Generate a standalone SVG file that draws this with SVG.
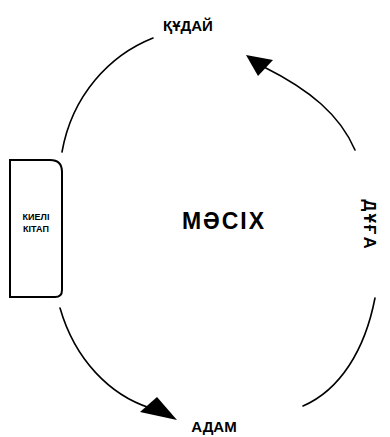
<svg xmlns="http://www.w3.org/2000/svg" width="390" height="437" viewBox="0 0 390 437">
<style>
.t{font-family:"Liberation Sans","DejaVu Sans",sans-serif;font-weight:bold;fill:#000}
.c{fill:none;stroke:#000;stroke-width:1.6;stroke-linecap:round}
.h{fill:#000;stroke:none}
</style>
<rect width="390" height="437" fill="#fff"/>
<g id="connectors">
<path class="c" d="M153,38 C110,55 72,95 62,152"/>
<path class="c" d="M264,67 C310,90 340,115 355,150"/>
<polygon class="h" points="246,55 273,60 258,76"/>
<path class="c" d="M375,298 C365,350 340,390 303,406"/>
<path class="c" d="M60,308 C75,360 110,395 150,408"/>
<polygon class="h" points="177,420 140,412 157,397"/>
</g>
<g id="kudai"><text class="t" x="188" y="31" font-size="15" text-anchor="middle">ҚҰДАЙ</text></g>
<g id="adam"><text class="t" x="214" y="432" font-size="15" text-anchor="middle">АДАМ</text></g>
<g id="dua"><text class="t" font-size="17" text-anchor="middle" letter-spacing="2" transform="translate(364,225) rotate(90)">ДҰҒА</text></g>
<g id="masikh"><text font-family="'Liberation Sans','DejaVu Sans',sans-serif" font-weight="bold" x="224" y="229" font-size="23" letter-spacing="2" text-anchor="middle">МӘСІХ</text></g>
<g id="kieli-kitap">
<path d="M10,160 H50 Q62,160 62,172 V290 Q62,297 55,297 H10 Z" fill="#fff" stroke="#000" stroke-width="2"/>
<text class="t" x="36" y="220" font-size="9" text-anchor="middle">КИЕЛІ</text>
<text class="t" x="36" y="232" font-size="9" text-anchor="middle">КІТАП</text>
</g>
</svg>
